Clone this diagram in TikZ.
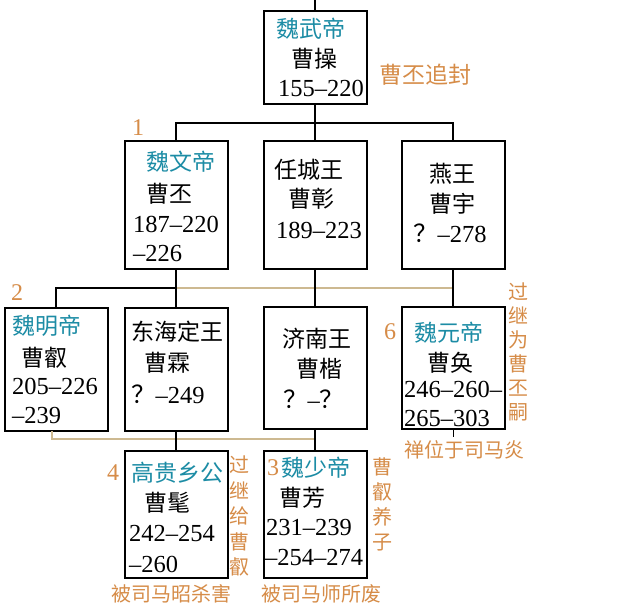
\documentclass[tikz,border=0pt]{standalone}
\usepackage{fontspec}
\setmainfont{Liberation Serif}
\newfontfamily\cjk{Noto Sans CJK SC}
\definecolor{teal1}{RGB}{28,140,165}
\definecolor{orn}{RGB}{214,140,72}
\definecolor{tanl}{RGB}{205,185,145}
\begin{document}
\begin{tikzpicture}[x=1pt,y=-1pt,
  boxst/.style={draw=black, line width=2pt, minimum width=103pt, inner sep=0pt},
  conn/.style={draw=black, line width=1.3pt},
  tanconn/.style={draw=tanl, line width=1.4pt},
  cj/.style={anchor=west, inner sep=0pt, font=\cjk\fontsize{23}{28}\selectfont},
  nm/.style={anchor=west, inner sep=0pt, font=\fontsize{24.5}{28}\selectfont},
  ttl/.style={cj, text=teal1},
  onum/.style={inner sep=0pt, text=orn, font=\fontsize{24}{28}\selectfont},
  onote/.style={inner sep=0pt, text=orn, align=center},
]
\useasboundingbox (0,0) rectangle (621,610);
\fill[white] (0,0) rectangle (621,610);

% boxes
\node[boxst, minimum height=93pt]  (wu)   at (315,57.5) {};
\node[boxst, minimum height=128pt] (wen)  at (176,205) {};
\node[boxst, minimum height=128pt] (ren)  at (315,205) {};
\node[boxst, minimum height=128pt] (yan)  at (453,205) {};
\node[boxst, minimum height=123pt] (ming) at (56,369) {};
\node[boxst, minimum height=123pt] (dh)   at (176,369) {};
\node[boxst, minimum height=122pt] (jn)   at (315,368) {};
\node[boxst, minimum height=122pt] (yuan) at (453,368) {};
\node[boxst, minimum height=127pt] (gao)  at (176,514.5) {};
\node[boxst, minimum height=127pt] (shao) at (315,514.5) {};

% connectors
\coordinate (top) at (315,0);
\coordinate (j1) at (315,123);
\coordinate (j2) at (176,288);
\coordinate (j3) at (453,288);
\coordinate (j4) at (315,439);
\coordinate (t1) at (52,431);
\coordinate (tk) at (453,437);
\draw[conn] (top) -- (wu.north);
\draw[conn] (wu.south) -- (j1);
\draw[conn] (wen.north) |- (j1) -| (yan.north);
\draw[conn] (j1) -- (ren.north);
\draw[tanconn] (j2) -- (j3);
\draw[conn] (wen.south) -- (dh.north);
\draw[conn] (j2) -| (ming.north);
\draw[conn] (ren.south) -- (jn.north);
\draw[conn] (yan.south) -- (yuan.north);
\draw[tanconn] (t1) |- (j4);
\draw[conn] (dh.south) -- (gao.north);
\draw[conn] (jn.south) -- (shao.north);
\draw[conn, line width=0.9pt] (yuan.south) -- (tk);

% texts: top
\node[ttl] (wu1) at (276,29) {魏武帝};
\node[cj]  (wu2) at (291,59) {曹操};
\node[nm]  (wu3) at (278,88) {155--220};
% row 2
\node[ttl] (wen1) at (146,162) {魏文帝};
\node[cj]  (wen2) at (146,194) {曹丕};
\node[nm]  (wen3) at (133,224) {187--220};
\node[nm]  (wen4) at (133,254) {--226};
\node[cj]  (ren1) at (274,170) {任城王};
\node[cj]  (ren2) at (288,199) {曹彰};
\node[nm]  (ren3) at (276,230) {189--223};
\node[cj]  (yan1) at (429,174) {燕王};
\node[cj]  (yan2) at (429,204) {曹宇};
\node[nm]  (yan3) at (413,233) {{\cjk ？}--278};
% row 3
\node[ttl] (ming1) at (12,326) {魏明帝};
\node[cj]  (ming2) at (21,358) {曹叡};
\node[nm]  (ming3) at (12,386) {205--226};
\node[nm]  (ming4) at (12,416) {--239};
\node[cj]  (dh1) at (131,332) {东海定王};
\node[cj]  (dh2) at (144,363) {曹霖};
\node[nm]  (dh3) at (131,394) {{\cjk ？}--249};
\node[cj]  (jn1) at (282,339) {济南王};
\node[cj]  (jn2) at (296,369) {曹楷};
\node[nm]  (jn3) at (283,399) {{\cjk ？}--{\cjk ？}};
\node[ttl] (yuan1) at (414,333) {魏元帝};
\node[cj]  (yuan2) at (427,363) {曹奂};
\node[nm]  (yuan3) at (404,389) {246--260--};
\node[nm]  (yuan4) at (404,418) {265--303};
% row 4
\node[ttl] (gao1) at (131,473) {高贵乡公};
\node[cj]  (gao2) at (144,503) {曹髦};
\node[nm]  (gao3) at (129,534) {242--254};
\node[nm]  (gao4) at (129,564) {--260};
\node[onum, anchor=west] (n3) at (267,468) {3};
\node[ttl] (shao1) at (281,468) {魏少帝};
\node[cj]  (shao2) at (279,498) {曹芳};
\node[nm]  (shao3) at (266,528) {231--239};
\node[nm]  (shao4) at (265,558) {--254--274};

% orange numbers
\node[onum] (n1) at (138,128) {1};
\node[onum] (n2) at (17,293) {2};
\node[onum] (n4) at (113,473) {4};
\node[onum] (n6) at (390,332) {6};

% orange notes
\node[onote, anchor=west, font=\cjk\fontsize{23}{28}\selectfont] (zf) at (379,75) {曹丕追封};
\node[onote, font=\cjk\fontsize{20}{24}\selectfont] (gj1) at (518,352) {过\\继\\为\\曹\\丕\\嗣};
\node[onote, anchor=west, font=\cjk\fontsize{20}{24}\selectfont] (sw) at (404,450) {禅位于司马炎};
\node[onote, font=\cjk\fontsize{20}{25.5}\selectfont] (gj2) at (239,516) {过\\继\\给\\曹\\叡};
\node[onote, font=\cjk\fontsize{20}{25}\selectfont] (yz) at (382,504.5) {曹\\叡\\养\\子};
\node[onote, font=\cjk\fontsize{20}{24}\selectfont] (bs1) at (171,594) {被司马昭杀害};
\node[onote, font=\cjk\fontsize{20}{24}\selectfont] (bs2) at (321,594) {被司马师所废};
\end{tikzpicture}
\end{document}
